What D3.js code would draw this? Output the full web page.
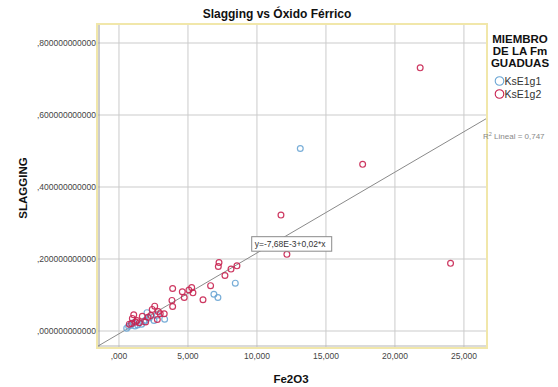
<!DOCTYPE html>
<html>
<head>
<meta charset="utf-8">
<script src="https://cdn.jsdelivr.net/npm/d3@7"></script>
<style>
  body { margin: 0; background: #fff; }
  svg { display: block; font-family: "Liberation Sans", Arial, sans-serif; }
</style>
</head>
<body>
<svg id="chart" width="558" height="387"></svg>
<script>
// Series: [Fe2O3, SLAGGING]
const ksE1g1 = [
  [13.14, 0.507], [8.43, 0.133], [6.88, 0.102], [7.17, 0.093],
  [2.03, 0.051], [3.31, 0.033], [2.54, 0.029], [1.64, 0.019],
  [0.56, 0.008], [0.70, 0.013], [1.16, 0.014], [2.78, 0.044],
  [1.91, 0.030], [1.35, 0.017], [1.04, 0.023], [2.20, 0.036],
  [1.80, 0.026], [0.85, 0.016]
];
const ksE1g2 = [
  [21.83, 0.731], [17.66, 0.463], [11.74, 0.322], [12.17, 0.213], [24.03, 0.188],
  [7.25, 0.190], [7.20, 0.179], [8.12, 0.172], [8.55, 0.181], [7.68, 0.154],
  [6.64, 0.126], [6.09, 0.087], [3.89, 0.118], [4.59, 0.109], [5.27, 0.121],
  [5.07, 0.114], [5.36, 0.106], [4.73, 0.093], [3.84, 0.085], [3.89, 0.068],
  [2.59, 0.069], [2.41, 0.060], [2.85, 0.054], [2.99, 0.048], [3.28, 0.048],
  [2.30, 0.043], [1.07, 0.045], [0.97, 0.035], [1.30, 0.029], [0.92, 0.021],
  [1.69, 0.041], [1.93, 0.025], [2.78, 0.032], [1.47, 0.023], [0.75, 0.019],
  [1.20, 0.025], [2.10, 0.038]
];
const seriesNames = ['KsE1g1', 'KsE1g2'];
const seriesColors = ['#6aa5d4', '#c82250'];
const xTicks = [0, 5, 10, 15, 20, 25];
const yTicks = [0, 0.2, 0.4, 0.6, 0.8];
const fitIntercept = -0.00768;
const fitSlope = 0.02245;
const fitLabel = 'y=-7,68E-3+0,02*x';
const r2Label = 'Lineal = 0,747';

const svg = d3.select('#chart');
const plotLeft = 98, plotRight = 486, plotTop = 25, plotBottom = 347;

const x = d3.scaleLinear().domain([-1.52, 26.6]).range([plotLeft, plotRight]);
const y = d3.scaleLinear().domain([-0.0444, 0.85]).range([plotBottom, plotTop]);

const fmtX = v => {
  const s = v.toFixed(3).replace('.', ',');
  return s.startsWith('0,') ? s.slice(1) : s;
};
const fmtY = v => ',' + v.toFixed(12).split('.')[1];

svg.append('defs').append('clipPath').attr('id', 'plot-clip')
  .append('rect').attr('x', plotLeft).attr('y', plotTop)
  .attr('width', plotRight - plotLeft).attr('height', plotBottom - plotTop);

// grid
svg.append('g').selectAll('line')
  .data(xTicks).enter().append('line')
  .attr('x1', d => x(d)).attr('x2', d => x(d))
  .attr('y1', plotTop).attr('y2', plotBottom)
  .style('stroke', '#cbcbcb').style('stroke-width', 1);

svg.append('g').selectAll('line')
  .data(yTicks).enter().append('line')
  .attr('x1', plotLeft).attr('x2', plotRight)
  .attr('y1', d => y(d)).attr('y2', d => y(d))
  .style('stroke', '#cbcbcb').style('stroke-width', 1);

// frame
svg.append('rect')
  .attr('x', plotLeft - 1).attr('y', plotTop - 1)
  .attr('width', plotRight - plotLeft + 2).attr('height', plotBottom - plotTop + 2)
  .style('fill', 'none').style('stroke', '#f1e7aa').style('stroke-width', 2);
svg.append('line').attr('x1', plotLeft + 1).attr('x2', plotLeft + 1).attr('y1', plotTop).attr('y2', plotBottom)
  .style('stroke', '#9a9a9a').style('stroke-width', 1);
svg.append('line').attr('x1', plotLeft).attr('x2', plotRight).attr('y1', plotBottom - 1).attr('y2', plotBottom - 1)
  .style('stroke', '#b5b5b5').style('stroke-width', 1);

// tick labels
svg.append('g').selectAll('text')
  .data(xTicks).enter().append('text')
  .attr('x', d => x(d)).attr('y', 359)
  .attr('text-anchor', 'middle')
  .style('font-size', '8.5px').style('fill', '#444')
  .text(fmtX);

svg.append('g').selectAll('text')
  .data(yTicks).enter().append('text')
  .attr('x', 96).attr('y', d => y(d) + 3)
  .attr('text-anchor', 'end')
  .style('font-size', '8.5px').style('fill', '#444')
  .text(fmtY);

// fit line
const xd = x.domain();
svg.append('line')
  .attr('clip-path', 'url(#plot-clip)')
  .attr('x1', x(xd[0])).attr('y1', y(fitIntercept + fitSlope * xd[0]))
  .attr('x2', x(xd[1])).attr('y2', y(fitIntercept + fitSlope * xd[1]))
  .style('stroke', '#8a8a8a').style('stroke-width', 1);

// points
[ksE1g1, ksE1g2].forEach((data, i) => {
  svg.append('g').selectAll('circle')
    .data(data).enter().append('circle')
    .attr('cx', d => x(d[0])).attr('cy', d => y(d[1]))
    .attr('r', 2.9)
    .style('fill', 'none')
    .style('stroke', seriesColors[i])
    .style('stroke-width', 1.2)
    .style('opacity', 0.9);
});

// equation box
const eqX = x(9.62), eqY = y(0.262);
const eq = svg.append('g');
eq.append('rect').attr('x', eqX).attr('y', eqY)
  .attr('width', 80).attr('height', 14.5)
  .style('fill', '#fff').style('stroke', '#8a8a8a').style('stroke-width', 1);
eq.append('text').attr('x', eqX + 3).attr('y', eqY + 10.5)
  .style('font-size', '8.5px').style('fill', '#333').text(fitLabel);

// R2 label
const r2 = svg.append('text').attr('x', 483).attr('y', 139)
  .style('font-size', '8px').style('fill', '#888');
r2.append('tspan').text('R');
r2.append('tspan').attr('dy', -3).style('font-size', '5.5px').text('2');
r2.append('tspan').attr('dy', 3).text(' ' + r2Label);

// titles
svg.append('text').attr('x', 277).attr('y', 18)
  .attr('text-anchor', 'middle')
  .style('font-size', '12px').style('font-weight', 'bold').style('fill', '#111')
  .text('Slagging vs Óxido Férrico');

svg.append('text')
  .attr('transform', 'translate(27,188) rotate(-90)')
  .attr('text-anchor', 'middle')
  .style('font-size', '11.5px').style('font-weight', 'bold').style('fill', '#111')
  .text('SLAGGING');

svg.append('text').attr('x', 291).attr('y', 383)
  .attr('text-anchor', 'middle')
  .style('font-size', '11.5px').style('font-weight', 'bold').style('fill', '#111')
  .text('Fe2O3');

// legend
const legTitle = ['MIEMBRO', 'DE LA Fm', 'GUADUAS'];
svg.append('g').selectAll('text')
  .data(legTitle).enter().append('text')
  .attr('x', 520).attr('y', (d, i) => 43 + i * 12)
  .attr('text-anchor', 'middle')
  .style('font-size', '11.5px').style('font-weight', 'bold').style('fill', '#111')
  .text(d => d);

const leg = svg.append('g').selectAll('g')
  .data(seriesNames).enter().append('g')
  .attr('transform', (d, i) => `translate(499.5,${81 + i * 13})`);
leg.append('circle').attr('r', 4.3)
  .style('fill', 'none').style('stroke', (d, i) => seriesColors[i]).style('stroke-width', 1.1);
leg.append('text').attr('x', 5).attr('y', 3.8)
  .style('font-size', '10.5px').style('fill', '#333').text(d => d);
</script>
</body>
</html>
